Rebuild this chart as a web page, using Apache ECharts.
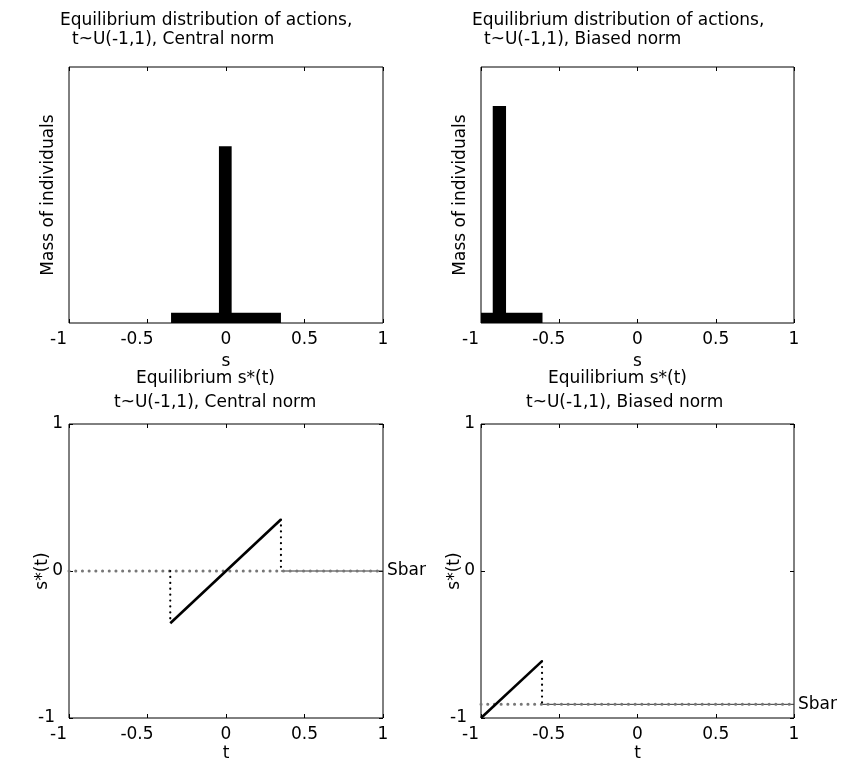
<!DOCTYPE html>
<html>
<head>
<meta charset="utf-8">
<script src="https://cdn.jsdelivr.net/npm/echarts@6/dist/echarts.min.js"></script>
<style>
  html, body { margin: 0; padding: 0; background: #fff; }
  #chart { width: 844px; height: 763px; }
</style>
</head>
<body>
<div id="chart"></div>
<script>
// tick values
var sTicks = [-1, -0.5, 0, 0.5, 1];
var tTicks = [-1, -0.5, 0, 0.5, 1];
var sStarTicks = [-1, 0, 1];

// histogram bars: [from, to] on s, mass of individuals
var centralBarFrom = [-0.35, -0.045];
var centralBarTo = [0.35, 0.036];
var centralBarMass = [0.04, 0.69];
var biasedBarFrom = [-1, -0.925];
var biasedBarTo = [-0.607, -0.84];
var biasedBarMass = [0.04, 0.848];

// equilibrium s*(t): linear part between cutoffs, Sbar elsewhere
var centralT = [-0.355, 0.35];
var centralS = [-0.355, 0.35];
var centralSbar = 0;
var biasedT = [-1, -0.61];
var biasedS = [-1, -0.613];
var biasedSbar = -0.907;

var FONT = "DejaVu Sans";
var FS = 17;

var grids = [
  { left: 69, top: 67, width: 314, height: 256 },
  { left: 481, top: 67, width: 313, height: 256 },
  { left: 69, top: 424, width: 314, height: 294 },
  { left: 481, top: 424, width: 313, height: 294 }
];

function negLabel(pad) {
  return {
    formatter: function (v) {
      return v < 0 ? "{n|" + v + "}" : "" + v;
    },
    rich: {
      n: { padding: [0, pad, 0, 0], fontFamily: FONT, fontSize: FS, color: "#000" }
    }
  };
}

var tickStyle = { show: true, inside: true, length: 4, lineStyle: { color: "#000" } };
var noLine = { show: false, onZero: false };

var xAxes = [];
var yAxes = [];
grids.forEach(function (g, i) {
  var ticks = i < 2 ? sTicks : tTicks;
  var xl = negLabel(21);
  xAxes.push({
    gridIndex: i, type: "value", position: "bottom",
    min: ticks[0], max: ticks[ticks.length - 1], interval: ticks[1] - ticks[0],
    name: i < 2 ? "s" : "t", nameLocation: "middle", nameGap: i < 2 ? 30 : 27,
    nameMoveOverlap: false,
    nameTextStyle: { fontFamily: FONT, fontSize: FS, color: "#000" },
    axisLine: noLine,
    axisTick: tickStyle,
    axisLabel: { show: true, margin: 8, fontFamily: FONT, fontSize: FS, color: "#000",
      formatter: xl.formatter, rich: xl.rich },
    splitLine: { show: false }
  });
  xAxes.push({
    gridIndex: i, type: "value", position: "top",
    min: ticks[0], max: ticks[ticks.length - 1], interval: ticks[1] - ticks[0],
    axisLine: noLine,
    axisTick: tickStyle,
    axisLabel: { show: false },
    splitLine: { show: false }
  });
  if (i < 2) {
    yAxes.push({
      gridIndex: i, type: "value", min: 0, max: 1,
      name: "Mass of individuals", nameLocation: "middle", nameGap: 12,
      nameMoveOverlap: false,
      nameTextStyle: { fontFamily: FONT, fontSize: FS, color: "#000" },
      axisLine: noLine, axisTick: { show: false },
      axisLabel: { show: false }, splitLine: { show: false }
    });
    yAxes.push({
      gridIndex: i, type: "value", position: "right", min: 0, max: 1,
      axisLine: noLine, axisTick: { show: false },
      axisLabel: { show: false }, splitLine: { show: false }
    });
  } else {
    var yl = negLabel(8);
    yAxes.push({
      gridIndex: i, type: "value",
      min: sStarTicks[0], max: sStarTicks[sStarTicks.length - 1],
      interval: sStarTicks[1] - sStarTicks[0],
      name: "s*(t)", nameLocation: "middle", nameGap: 18,
      nameMoveOverlap: false,
      nameTextStyle: { fontFamily: FONT, fontSize: FS, color: "#000" },
      axisLine: noLine,
      axisTick: tickStyle,
      axisLabel: { show: true, margin: 6, fontFamily: FONT, fontSize: FS, color: "#000",
        formatter: yl.formatter, rich: yl.rich },
      splitLine: { show: false }
    });
    yAxes.push({
      gridIndex: i, type: "value", position: "right",
      min: sStarTicks[0], max: sStarTicks[sStarTicks.length - 1],
      interval: sStarTicks[1] - sStarTicks[0],
      axisLine: noLine,
      axisTick: tickStyle,
      axisLabel: { show: false }, splitLine: { show: false }
    });
  }
});

function barSeries(idx, from, to, mass) {
  var data = from.map(function (f, k) { return [f, to[k], mass[k]]; });
  return {
    type: "custom", xAxisIndex: idx * 2, yAxisIndex: idx * 2,
    encode: { x: [0, 1], y: 2 },
    data: data,
    renderItem: function (params, api) {
      var p0 = api.coord([api.value(0), api.value(2)]);
      var p1 = api.coord([api.value(1), 0]);
      return {
        type: "rect",
        shape: { x: p0[0], y: p0[1], width: p1[0] - p0[0], height: p1[1] - p0[1] },
        style: { fill: "#000" }
      };
    }
  };
}

function strategySeries(idx, t, s, sbar, leftDrop) {
  var xi = idx * 2, yi = idx * 2;
  var out = [];
  // s*(t) sits at Sbar beyond the upper cutoff
  out.push({
    type: "line", xAxisIndex: xi, yAxisIndex: yi, symbol: "none",
    data: [[t[1], sbar], [1, sbar]],
    lineStyle: { color: "#333", width: 1 }
  });
  // Sbar reference line
  out.push({
    type: "line", xAxisIndex: xi, yAxisIndex: yi, symbol: "none",
    data: [[-1, sbar], [1, sbar]],
    lineStyle: { color: "#777", width: 3, type: [0.1, 6.6], cap: "round" },
    endLabel: { show: true, formatter: "Sbar", distance: 4,
      fontFamily: FONT, fontSize: FS, color: "#000" }
  });
  // vertical jumps
  var drops = [[[t[1], s[1]], [t[1], sbar]]];
  if (leftDrop) drops.push([[t[0], sbar], [t[0], s[0]]]);
  drops.forEach(function (d) {
    out.push({
      type: "line", xAxisIndex: xi, yAxisIndex: yi, symbol: "none",
      data: d,
      lineStyle: { color: "#000", width: 2.2, type: [0.1, 5.8], cap: "round" }
    });
  });
  // linear part
  out.push({
    type: "line", xAxisIndex: xi, yAxisIndex: yi, symbol: "none",
    data: t.map(function (v, k) { return [v, s[k]]; }),
    lineStyle: { color: "#000", width: 2.6 }
  });
  return out;
}

var titleStyle = { fontFamily: FONT, fontSize: FS, fontWeight: "normal", color: "#000" };
var titles = [
  { text: "Equilibrium distribution of actions,", left: grids[0].left - 9, top: 12 },
  { text: "t~U(-1,1), Central norm", left: grids[0].left + 3, top: 31 },
  { text: "Equilibrium distribution of actions,", left: grids[1].left - 9, top: 12 },
  { text: "t~U(-1,1), Biased norm", left: grids[1].left + 3, top: 31 },
  { text: "Equilibrium s*(t)", left: grids[2].left + 67, top: 370 },
  { text: "t~U(-1,1), Central norm", left: grids[2].left + 45, top: 394 },
  { text: "Equilibrium s*(t)", left: grids[3].left + 67, top: 370 },
  { text: "t~U(-1,1), Biased norm", left: grids[3].left + 45, top: 394 }
].map(function (t) {
  t.padding = 0;
  t.textStyle = titleStyle;
  return t;
});

var option = {
  animation: false,
  backgroundColor: "#fff",
  title: titles,
  grid: grids.map(function (g) {
    return { left: g.left, top: g.top, width: g.width, height: g.height,
      show: true, borderColor: "#000", borderWidth: 1, backgroundColor: "#fff" };
  }),
  xAxis: xAxes,
  yAxis: yAxes,
  series: [
    barSeries(0, centralBarFrom, centralBarTo, centralBarMass),
    barSeries(1, biasedBarFrom, biasedBarTo, biasedBarMass)
  ].concat(strategySeries(2, centralT, centralS, centralSbar, true))
   .concat(strategySeries(3, biasedT, biasedS, biasedSbar, false))
};

var myChart = echarts.init(document.getElementById("chart"), null, { renderer: "canvas" });
myChart.setOption(option);
</script>
</body>
</html>
